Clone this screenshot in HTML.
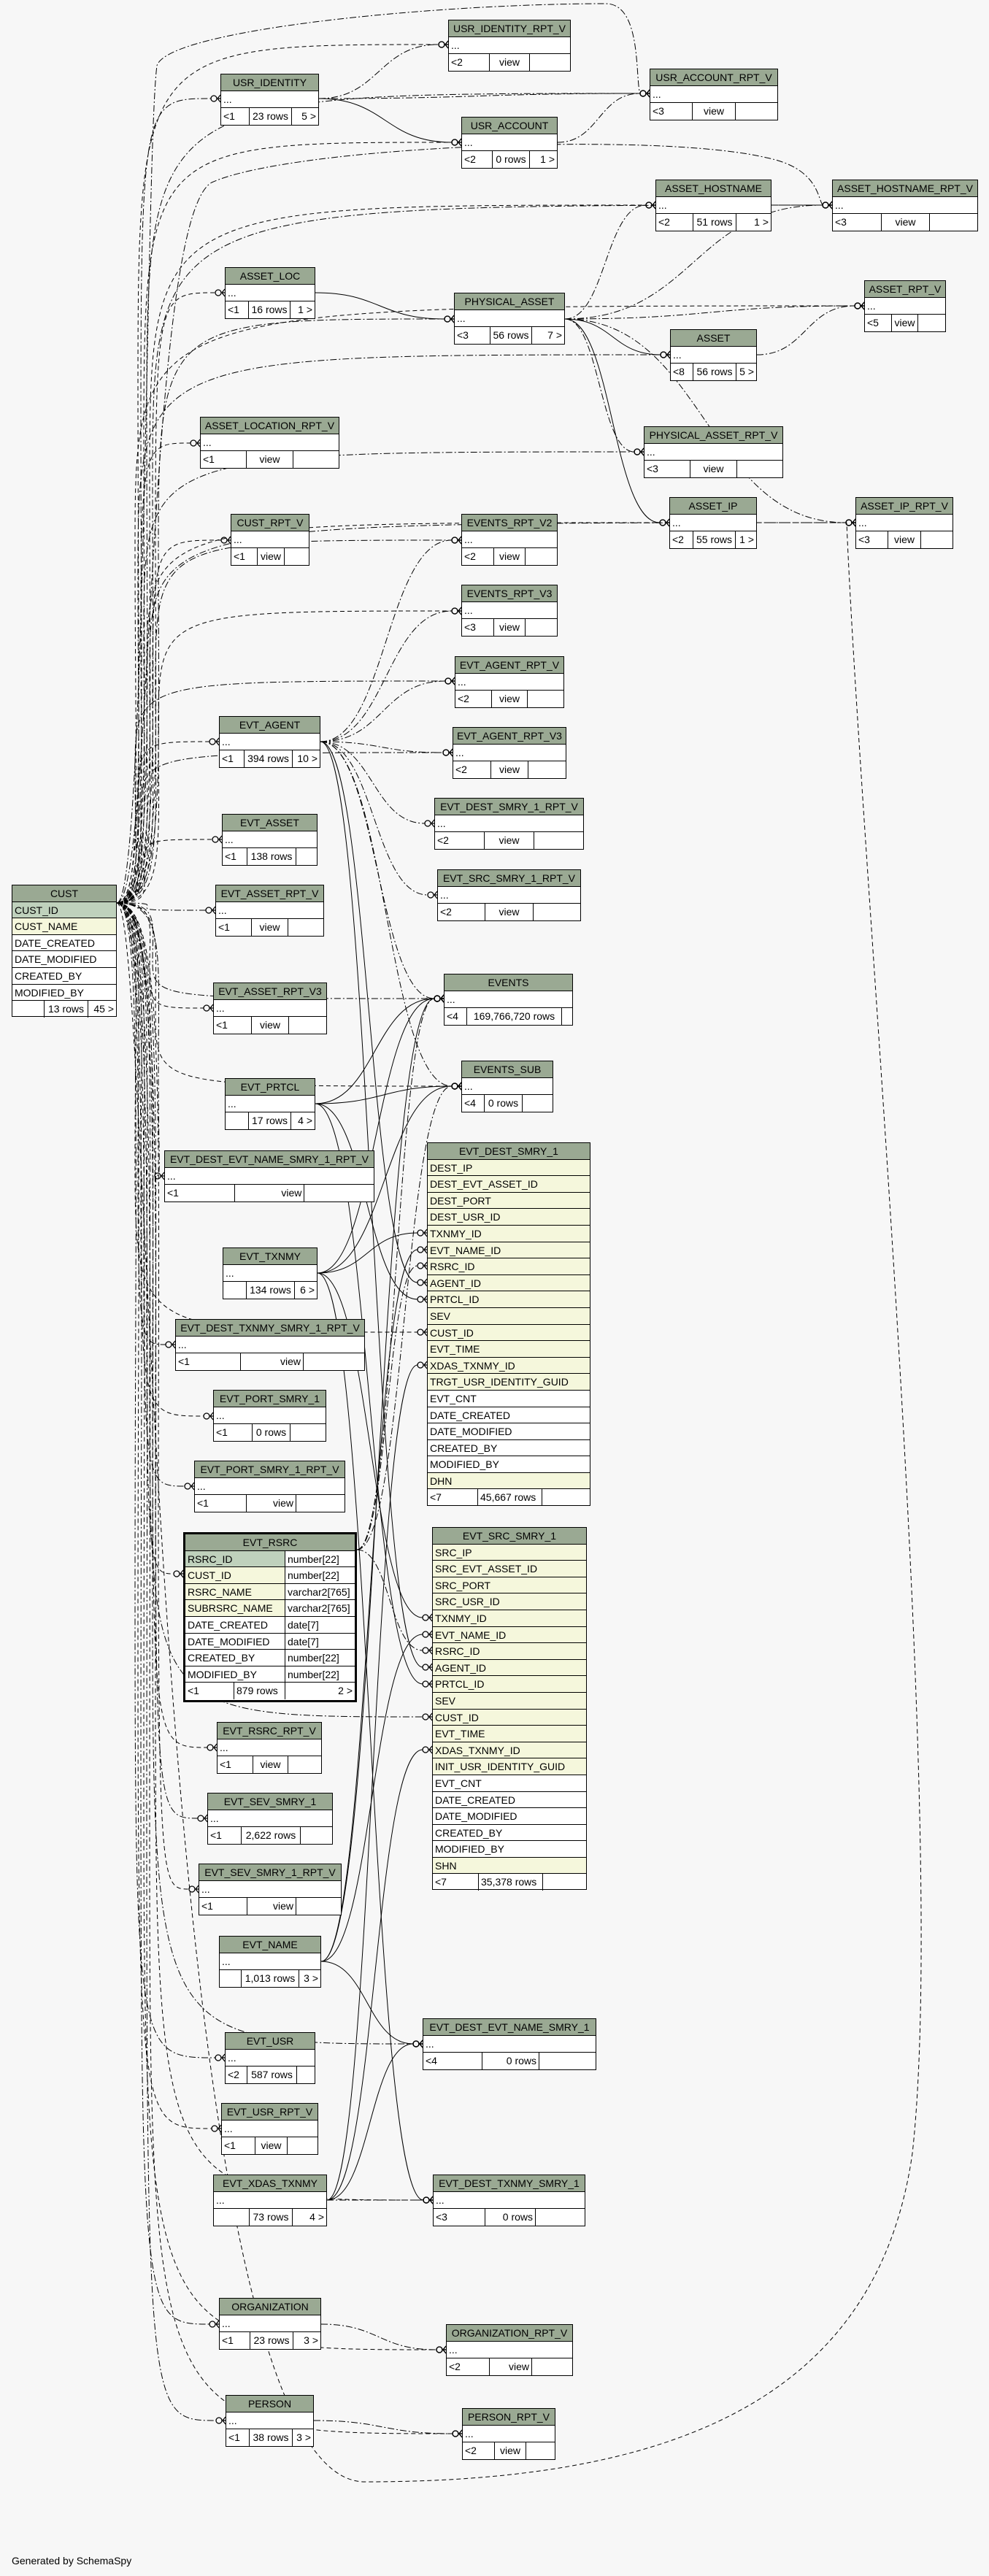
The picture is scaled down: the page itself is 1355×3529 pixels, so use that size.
<!DOCTYPE html>
<html><head><meta charset="utf-8">
<style>
html,body{margin:0;padding:0;background:#f7f7f7;}
body{width:1355px;height:3529px;position:relative;overflow:hidden;font-family:"Liberation Sans",sans-serif;font-size:14px;color:#000;}
svg{position:absolute;left:0;top:0;}
.t{position:absolute;box-sizing:border-box;border:1px solid #000;background:#fff;}
.t>div{box-sizing:border-box;height:23px;line-height:22px;border-bottom:1px solid #000;white-space:nowrap;overflow:hidden;}
.t>div:last-child{border-bottom:none;}
.h{background:#9aa993;text-align:center;}
.r{padding-left:3px;}
.y{background:#f5f7dc;}
.k{background:#bfd1bc;}
.f{display:flex;}
.f span{flex:1;border-left:1px solid #000;padding:0 3px;box-sizing:border-box;white-space:nowrap;overflow:hidden;}
.f span:first-child{border-left:none;}
.f span:nth-child(2){text-align:center;}
.f span:nth-child(3){text-align:right;}
.big>div{height:22.6px;line-height:22px;}
.rs{border:3px solid #000;}
.rs .g{display:flex;padding:0;}
.rs .g span{box-sizing:border-box;padding-left:3px;}
.rs .g span:first-child{width:136px;}
.rs .g span:last-child{flex:1;border-left:1px solid #000;background:#fff;}
.gen{position:absolute;left:16px;top:3500px;font-size:14px;}
</style></head><body>
<svg id="s" width="1355" height="3529"></svg>

<div class="t" style="left:614px;top:27px;width:168px"><div class="h">USR_IDENTITY_RPT_V</div><div class="r">...</div><div class="f"><span>&lt;2</span><span>view</span><span></span></div></div>
<div class="t" style="left:302px;top:101px;width:135px"><div class="h">USR_IDENTITY</div><div class="r">...</div><div class="f"><span style="flex:0 0 38px">&lt;1</span><span>23 rows</span><span style="flex:0 0 37px">5 &gt;</span></div></div>
<div class="t" style="left:632px;top:160px;width:132px"><div class="h">USR_ACCOUNT</div><div class="r">...</div><div class="f"><span style="flex:0 0 41px">&lt;2</span><span>0 rows</span><span style="flex:0 0 38px">1 &gt;</span></div></div>
<div class="t" style="left:890px;top:94px;width:176px"><div class="h">USR_ACCOUNT_RPT_V</div><div class="r">...</div><div class="f"><span>&lt;3</span><span>view</span><span></span></div></div>
<div class="t" style="left:898px;top:246px;width:159px"><div class="h">ASSET_HOSTNAME</div><div class="r">...</div><div class="f"><span style="flex:0 0 50px">&lt;2</span><span>51 rows</span><span style="flex:0 0 48px">1 &gt;</span></div></div>
<div class="t" style="left:1140px;top:246px;width:200px"><div class="h">ASSET_HOSTNAME_RPT_V</div><div class="r">...</div><div class="f"><span style="flex:0 0 66px">&lt;3</span><span>view</span><span></span></div></div>
<div class="t" style="left:308px;top:366px;width:124px"><div class="h">ASSET_LOC</div><div class="r">...</div><div class="f"><span style="flex:0 0 31px">&lt;1</span><span>16 rows</span><span style="flex:0 0 34px">1 &gt;</span></div></div>
<div class="t" style="left:622px;top:401px;width:152px"><div class="h">PHYSICAL_ASSET</div><div class="r">...</div><div class="f"><span style="flex:0 0 48px">&lt;3</span><span>56 rows</span><span style="flex:0 0 45px">7 &gt;</span></div></div>
<div class="t" style="left:1184px;top:384px;width:112px"><div class="h">ASSET_RPT_V</div><div class="r">...</div><div class="f"><span style="flex:0 0 36px">&lt;5</span><span style="flex:0 0 36px">view</span><span></span></div></div>
<div class="t" style="left:918px;top:451px;width:119px"><div class="h">ASSET</div><div class="r">...</div><div class="f"><span style="flex:0 0 30px">&lt;8</span><span>56 rows</span><span style="flex:0 0 28px">5 &gt;</span></div></div>
<div class="t" style="left:274px;top:571px;width:191px"><div class="h">ASSET_LOCATION_RPT_V</div><div class="r">...</div><div class="f"><span>&lt;1</span><span>view</span><span></span></div></div>
<div class="t" style="left:882px;top:584px;width:191px"><div class="h">PHYSICAL_ASSET_RPT_V</div><div class="r">...</div><div class="f"><span>&lt;3</span><span>view</span><span></span></div></div>
<div class="t" style="left:917px;top:681px;width:120px"><div class="h">ASSET_IP</div><div class="r">...</div><div class="f"><span style="flex:0 0 31px">&lt;2</span><span>55 rows</span><span style="flex:0 0 29px">1 &gt;</span></div></div>
<div class="t" style="left:1172px;top:681px;width:134px"><div class="h">ASSET_IP_RPT_V</div><div class="r">...</div><div class="f"><span>&lt;3</span><span>view</span><span></span></div></div>
<div class="t" style="left:316px;top:704px;width:108px"><div class="h">CUST_RPT_V</div><div class="r">...</div><div class="f"><span style="flex:0 0 35px">&lt;1</span><span style="flex:0 0 37px">view</span><span></span></div></div>
<div class="t" style="left:632px;top:704px;width:132px"><div class="h">EVENTS_RPT_V2</div><div class="r">...</div><div class="f"><span>&lt;2</span><span>view</span><span></span></div></div>
<div class="t" style="left:632px;top:801px;width:132px"><div class="h">EVENTS_RPT_V3</div><div class="r">...</div><div class="f"><span>&lt;3</span><span>view</span><span></span></div></div>
<div class="t" style="left:623px;top:899px;width:150px"><div class="h">EVT_AGENT_RPT_V</div><div class="r">...</div><div class="f"><span>&lt;2</span><span>view</span><span></span></div></div>
<div class="t" style="left:300px;top:981px;width:139px"><div class="h">EVT_AGENT</div><div class="r">...</div><div class="f"><span style="flex:0 0 33px">&lt;1</span><span>394 rows</span><span style="flex:0 0 38px">10 &gt;</span></div></div>
<div class="t" style="left:620px;top:996px;width:156px"><div class="h">EVT_AGENT_RPT_V3</div><div class="r">...</div><div class="f"><span>&lt;2</span><span>view</span><span></span></div></div>
<div class="t" style="left:595px;top:1093px;width:205px"><div class="h">EVT_DEST_SMRY_1_RPT_V</div><div class="r">...</div><div class="f"><span>&lt;2</span><span>view</span><span></span></div></div>
<div class="t" style="left:304px;top:1115px;width:131px"><div class="h">EVT_ASSET</div><div class="r">...</div><div class="f"><span style="flex:0 0 33px">&lt;1</span><span style="flex:0 0 67px">138 rows</span><span></span></div></div>
<div class="t" style="left:599px;top:1191px;width:197px"><div class="h">EVT_SRC_SMRY_1_RPT_V</div><div class="r">...</div><div class="f"><span>&lt;2</span><span>view</span><span></span></div></div>
<div class="t" style="left:295px;top:1212px;width:149px"><div class="h">EVT_ASSET_RPT_V</div><div class="r">...</div><div class="f"><span>&lt;1</span><span>view</span><span></span></div></div>
<div class="t" style="left:292px;top:1346px;width:156px"><div class="h">EVT_ASSET_RPT_V3</div><div class="r">...</div><div class="f"><span>&lt;1</span><span>view</span><span></span></div></div>
<div class="t" style="left:608px;top:1334px;width:177px"><div class="h">EVENTS</div><div class="r">...</div><div class="f"><span style="flex:0 0 30px">&lt;4</span><span style="flex:0 0 130px">169,766,720 rows</span><span></span></div></div>
<div class="t" style="left:632px;top:1453px;width:126px"><div class="h">EVENTS_SUB</div><div class="r">...</div><div class="f"><span style="flex:0 0 30px">&lt;4</span><span style="flex:0 0 52px">0 rows</span><span></span></div></div>
<div class="t" style="left:308px;top:1477px;width:124px"><div class="h">EVT_PRTCL</div><div class="r">...</div><div class="f"><span style="flex:0 0 31px"></span><span>17 rows</span><span style="flex:0 0 33px">4 &gt;</span></div></div>
<div class="t" style="left:225px;top:1576px;width:288px"><div class="h">EVT_DEST_EVT_NAME_SMRY_1_RPT_V</div><div class="r">...</div><div class="f"><span>&lt;1</span><span style="text-align:right">view</span><span></span></div></div>
<div class="t" style="left:305px;top:1709px;width:130px"><div class="h">EVT_TXNMY</div><div class="r">...</div><div class="f"><span style="flex:0 0 31px"></span><span>134 rows</span><span style="flex:0 0 31px">6 &gt;</span></div></div>
<div class="t" style="left:240px;top:1807px;width:260px"><div class="h">EVT_DEST_TXNMY_SMRY_1_RPT_V</div><div class="r">...</div><div class="f"><span style="flex:0 0 88px">&lt;1</span><span style="text-align:right;flex:0 0 86px">view</span><span></span></div></div>
<div class="t" style="left:292px;top:1904px;width:155px"><div class="h">EVT_PORT_SMRY_1</div><div class="r">...</div><div class="f"><span style="flex:0 0 52px">&lt;1</span><span style="flex:0 0 52px">0 rows</span><span></span></div></div>
<div class="t" style="left:266px;top:2001px;width:207px"><div class="h">EVT_PORT_SMRY_1_RPT_V</div><div class="r">...</div><div class="f"><span style="flex:0 0 70px">&lt;1</span><span style="text-align:right;flex:0 0 68px">view</span><span></span></div></div>

<div class="t big" style="left:585px;top:1565px;width:224px;height:498px"><div class="h">EVT_DEST_SMRY_1</div><div class="r y">DEST_IP</div><div class="r y">DEST_EVT_ASSET_ID</div><div class="r y">DEST_PORT</div><div class="r y">DEST_USR_ID</div><div class="r y">TXNMY_ID</div><div class="r y">EVT_NAME_ID</div><div class="r y">RSRC_ID</div><div class="r y">AGENT_ID</div><div class="r y">PRTCL_ID</div><div class="r y">SEV</div><div class="r y">CUST_ID</div><div class="r y">EVT_TIME</div><div class="r y">XDAS_TXNMY_ID</div><div class="r y">TRGT_USR_IDENTITY_GUID</div><div class="r">EVT_CNT</div><div class="r">DATE_CREATED</div><div class="r">DATE_MODIFIED</div><div class="r">CREATED_BY</div><div class="r">MODIFIED_BY</div><div class="r y">DHN</div><div class="f"><span style="flex:0 0 68px">&lt;7</span><span style="flex:0 0 88px;text-align:left">45,667 rows</span><span></span></div></div>

<div class="t big" style="left:592px;top:2092px;width:212px;height:497px"><div class="h">EVT_SRC_SMRY_1</div><div class="r y">SRC_IP</div><div class="r y">SRC_EVT_ASSET_ID</div><div class="r y">SRC_PORT</div><div class="r y">SRC_USR_ID</div><div class="r y">TXNMY_ID</div><div class="r y">EVT_NAME_ID</div><div class="r y">RSRC_ID</div><div class="r y">AGENT_ID</div><div class="r y">PRTCL_ID</div><div class="r y">SEV</div><div class="r y">CUST_ID</div><div class="r y">EVT_TIME</div><div class="r y">XDAS_TXNMY_ID</div><div class="r y">INIT_USR_IDENTITY_GUID</div><div class="r">EVT_CNT</div><div class="r">DATE_CREATED</div><div class="r">DATE_MODIFIED</div><div class="r">CREATED_BY</div><div class="r">MODIFIED_BY</div><div class="r y">SHN</div><div class="f"><span style="flex:0 0 62px">&lt;7</span><span style="flex:0 0 88px;text-align:left">35,378 rows</span><span></span></div></div>

<div class="t big rs" style="left:251px;top:2099px;width:238px;height:233px"><div class="h">EVT_RSRC</div><div class="g k"><span>RSRC_ID</span><span>number[22]</span></div><div class="g y"><span>CUST_ID</span><span>number[22]</span></div><div class="g y"><span>RSRC_NAME</span><span>varchar2[765]</span></div><div class="g y"><span>SUBRSRC_NAME</span><span>varchar2[765]</span></div><div class="g"><span>DATE_CREATED</span><span>date[7]</span></div><div class="g"><span>DATE_MODIFIED</span><span>date[7]</span></div><div class="g"><span>CREATED_BY</span><span>number[22]</span></div><div class="g"><span>MODIFIED_BY</span><span>number[22]</span></div><div class="f"><span style="flex:0 0 66px">&lt;1</span><span style="flex:0 0 70px;text-align:left">879 rows</span><span>2 &gt;</span></div></div>

<div class="t" style="left:297px;top:2359px;width:144px"><div class="h">EVT_RSRC_RPT_V</div><div class="r">...</div><div class="f"><span style="flex:0 0 48px">&lt;1</span><span style="flex:0 0 48px">view</span><span></span></div></div>
<div class="t" style="left:284px;top:2456px;width:172px"><div class="h">EVT_SEV_SMRY_1</div><div class="r">...</div><div class="f"><span style="flex:0 0 45px">&lt;1</span><span style="flex:0 0 81px">2,622 rows</span><span></span></div></div>
<div class="t" style="left:272px;top:2553px;width:196px"><div class="h">EVT_SEV_SMRY_1_RPT_V</div><div class="r">...</div><div class="f"><span style="flex:0 0 65px">&lt;1</span><span style="flex:0 0 67px;text-align:right">view</span><span></span></div></div>
<div class="t" style="left:300px;top:2652px;width:140px"><div class="h">EVT_NAME</div><div class="r">...</div><div class="f"><span style="flex:0 0 29px"></span><span>1,013 rows</span><span style="flex:0 0 30px">3 &gt;</span></div></div>
<div class="t" style="left:579px;top:2765px;width:238px"><div class="h">EVT_DEST_EVT_NAME_SMRY_1</div><div class="r">...</div><div class="f"><span style="flex:0 0 80px">&lt;4</span><span style="flex:0 0 78px;text-align:right">0 rows</span><span></span></div></div>
<div class="t" style="left:308px;top:2784px;width:124px"><div class="h">EVT_USR</div><div class="r">...</div><div class="f"><span style="flex:0 0 29px">&lt;2</span><span style="flex:0 0 68px">587 rows</span><span></span></div></div>
<div class="t" style="left:303px;top:2881px;width:133px"><div class="h">EVT_USR_RPT_V</div><div class="r">...</div><div class="f"><span style="flex:0 0 45px">&lt;1</span><span style="flex:0 0 44px">view</span><span></span></div></div>
<div class="t" style="left:292px;top:2979px;width:156px"><div class="h">EVT_XDAS_TXNMY</div><div class="r">...</div><div class="f"><span style="flex:0 0 48px"></span><span>73 rows</span><span style="flex:0 0 47px">4 &gt;</span></div></div>
<div class="t" style="left:593px;top:2979px;width:209px"><div class="h">EVT_DEST_TXNMY_SMRY_1</div><div class="r">...</div><div class="f"><span style="flex:0 0 70px">&lt;3</span><span style="flex:0 0 69px;text-align:right">0 rows</span><span></span></div></div>
<div class="t" style="left:300px;top:3148px;width:140px"><div class="h">ORGANIZATION</div><div class="r">...</div><div class="f"><span style="flex:0 0 41px">&lt;1</span><span>23 rows</span><span style="flex:0 0 38px">3 &gt;</span></div></div>
<div class="t" style="left:611px;top:3184px;width:174px"><div class="h">ORGANIZATION_RPT_V</div><div class="r">...</div><div class="f"><span style="flex:0 0 58px">&lt;2</span><span style="flex:0 0 58px;text-align:right">view</span><span></span></div></div>
<div class="t" style="left:309px;top:3281px;width:121px"><div class="h">PERSON</div><div class="r">...</div><div class="f"><span style="flex:0 0 31px">&lt;1</span><span>38 rows</span><span style="flex:0 0 29px">3 &gt;</span></div></div>
<div class="t" style="left:633px;top:3299px;width:128px"><div class="h">PERSON_RPT_V</div><div class="r">...</div><div class="f"><span style="flex:0 0 43px">&lt;2</span><span style="flex:0 0 43px">view</span><span></span></div></div>

<div class="t big" style="left:16px;top:1212px;width:144px;height:181px"><div class="h">CUST</div><div class="r k">CUST_ID</div><div class="r y">CUST_NAME</div><div class="r">DATE_CREATED</div><div class="r">DATE_MODIFIED</div><div class="r">CREATED_BY</div><div class="r">MODIFIED_BY</div><div class="f"><span style="flex:0 0 43px"></span><span style="flex:0 0 60px">13 rows</span><span>45 &gt;</span></div></div>

<div class="gen">Generated by SchemaSpy</div>

<script>
(function(){
var s=document.getElementById('s'),NS='http://www.w3.org/2000/svg',out='';
var D='6,4',DD='9,3,2,3',S='';
function P(d,st){out+='<path d="'+d+'" fill="none" stroke="#000" stroke-width="1"'+(st?' stroke-dasharray="'+st+'"':'')+'/>';}
function mk(x,y){out+='<circle cx="'+(x-9)+'" cy="'+y+'" r="4" fill="none" stroke="#000" stroke-width="1.3"/>'+
 '<path d="M'+(x-4)+','+y+' L'+x+','+(y-5)+' M'+(x-4)+','+y+' L'+x+','+y+' M'+(x-4)+','+y+' L'+x+','+(y+5)+'" stroke="#000" stroke-width="1.3"/>';}
function E(x1,y1,x2,y2,st){var e=x2-13,m=(x1+e)/2;
 if(e-x1<40){m=Math.max(x1,e)+40;P('M'+x1+','+y1+' C'+m+','+y1+' '+(e-40)+','+y2+' '+e+','+y2,st);}
 else P('M'+x1+','+y1+' C'+m+','+y1+' '+m+','+y2+' '+e+','+y2,st);mk(x2,y2);}
// CUST edges
var cx=160,cy=1237,i=0;
function C(x2,y2){i++;var st=(i%2)?D:DD;var e=x2-13;var vx=185+(i%9)*4;
 P('M'+cx+','+cy+' C'+(vx+10)+','+cy+' '+vx+','+(cy+(y2-cy)*0.2)+' '+vx+','+(cy+(y2-cy)*0.6)+' S'+(vx+(y2<cy?5:5))+','+y2+' '+e+','+y2,st);mk(x2,y2);}
[[614,61],[302,135],[632,195],[890,128],[898,281],[1140,281],[308,401],[622,437],[1184,419],[918,486],[274,607],[882,619],[917,716],[1172,716],[316,740],[632,740],[632,837],[623,933],[300,1016],[620,1031],[304,1150],[295,1247],[292,1381],[608,1368],[632,1488],[225,1611],[585,1825],[240,1842],[292,1940],[266,2036],[251,2156],[592,2352],[297,2394],[284,2491],[272,2588],[308,2819],[303,2916],[300,3184],[611,3219],[309,3316],[633,3334],[579,2800],[593,3014]].forEach(function(t){C(t[0],t[1]);});
// far loops over the top and bottom
P('M160,1237 C200,1237 200,200 215,90 C230,40 600,5 830,5 C880,5 870,110 877,128',DD);
P('M160,1237 C210,1237 200,300 290,250 C400,200 900,180 1050,216 C1120,230 1120,270 1127,281',DD);
P('M160,1237 C210,1237 200,3400 500,3400 C900,3400 1200,3300 1250,2950 C1300,2500 1180,1200 1160,716',D);
// other edges
E(437,135,614,61,DD);E(437,135,632,195,S);E(437,135,890,128,DD);
E(764,195,890,128,DD);E(1057,281,1140,281,DD);E(432,401,622,437,S);
E(774,437,918,486,S);E(774,437,917,716,S);E(774,437,898,281,DD);E(774,437,1184,419,DD);
E(774,437,882,619,DD);E(774,437,1140,281,DD);E(774,437,1172,716,DD);
E(1037,486,1184,419,DD);E(1037,716,1172,716,D);
var ag=[439,1016];
[[632,740],[632,837],[623,933],[620,1031],[595,1128],[599,1226],[608,1368],[632,1488],[585,1757],[592,2284]].forEach(function(t){E(ag[0],ag[1],t[0],t[1],t[0]==585||t[0]==592?S:DD);});
var pr=[432,1512];[[608,1368],[632,1488],[585,1780],[592,2307]].forEach(function(t){E(pr[0],pr[1],t[0],t[1],S);});
var tx=[435,1744];[[585,1689],[592,2216],[608,1368],[632,1488],[593,3014]].forEach(function(t){E(tx[0],tx[1],t[0],t[1],S);});
var rs=[489,2123];[[585,1734],[592,2261],[608,1368],[632,1488]].forEach(function(t){E(rs[0],rs[1],t[0],t[1],DD);});
var nm=[440,2687];[[585,1712],[592,2239],[579,2800],[608,1368]].forEach(function(t){E(nm[0],nm[1],t[0],t[1],S);});
var xd=[448,3014];[[585,1870],[592,2397],[593,3014],[579,2800]].forEach(function(t){E(xd[0],xd[1],t[0],t[1],t[0]==593?DD:S);});
E(440,3184,611,3219,DD);E(430,3316,633,3334,DD);
s.innerHTML=out;
})();
</script>
</body></html>
